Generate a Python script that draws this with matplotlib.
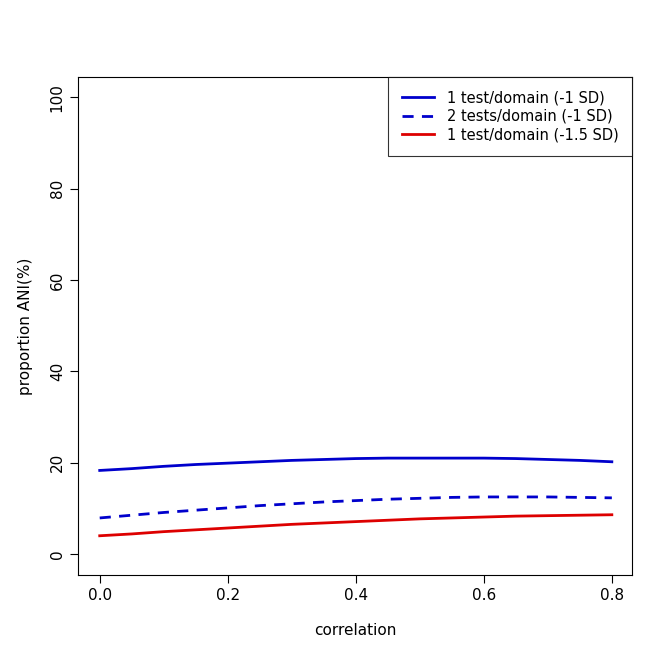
import numpy as np
import matplotlib.pyplot as plt

corr = np.arange(0, 0.801, 0.05)
one_test_1sd = [18.3, 18.7, 19.2, 19.6, 19.9, 20.2, 20.5, 20.7, 20.9, 21.0, 21.0, 21.0, 21.0, 20.9, 20.7, 20.5, 20.2]
two_tests_1sd = [7.9, 8.5, 9.1, 9.6, 10.1, 10.6, 11.0, 11.4, 11.7, 12.0, 12.2, 12.4, 12.5, 12.5, 12.5, 12.4, 12.3]
one_test_15sd = [4.0, 4.4, 4.9, 5.3, 5.7, 6.1, 6.5, 6.8, 7.1, 7.4, 7.7, 7.9, 8.1, 8.3, 8.4, 8.5, 8.6]

fig = plt.figure(figsize=(6.72, 6.71), dpi=100)
ax = fig.add_axes([0.116, 0.143, 0.824, 0.742])
ax.plot(corr, one_test_1sd, color='#0000cc', lw=2, label='1 test/domain (-1 SD)')
ax.plot(corr, two_tests_1sd, color='#0000cc', lw=2, ls=(0, (4, 3)), label='2 tests/domain (-1 SD)')
ax.plot(corr, one_test_15sd, color='#dd0000', lw=2, label='1 test/domain (-1.5 SD)')
ax.set_xlim(-0.034, 0.831)
ax.set_ylim(-4.6, 104.4)
ax.set_xticks([0, 0.2, 0.4, 0.6, 0.8])
ax.set_xticklabels(['0.0', '0.2', '0.4', '0.6', '0.8'])
ax.set_yticks([0, 20, 40, 60, 80, 100])
for lab in ax.get_yticklabels():
    lab.set_rotation(90)
    lab.set_va('center')
ax.tick_params(labelsize=11, length=6)
ax.set_xlabel('correlation', fontsize=11, labelpad=14)
ax.set_ylabel('proportion ANI(%)', fontsize=11, labelpad=12)
leg = ax.legend(loc='upper right', fontsize=10.5, frameon=True, fancybox=False,
                edgecolor='black', borderaxespad=0, handlelength=2.2,
                borderpad=0.9, labelspacing=0.25, handletextpad=0.9)
leg.get_frame().set_linewidth(0.8)
plt.savefig('out.png')
